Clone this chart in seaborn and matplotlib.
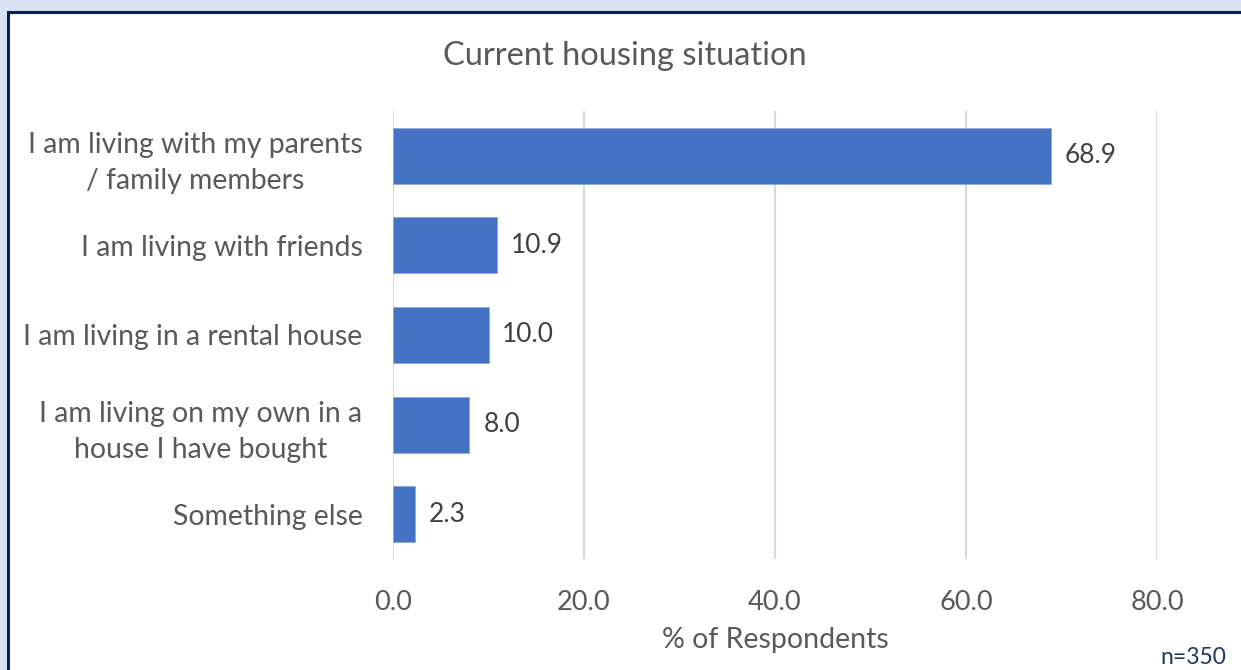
import matplotlib
matplotlib.use("Agg")
import matplotlib.pyplot as plt
import seaborn as sns
import pandas as pd
from matplotlib.patches import Rectangle

categories = [
    "I am living with my parents\n/ family members",
    "I am living with friends",
    "I am living in a rental house",
    "I am living on my own in a\nhouse I have bought",
    "Something else",
]
values = [68.9, 10.9, 10.0, 8.0, 2.3]
x_ticks = [0, 20, 40, 60, 80]
x_tick_labels = ["0.0", "20.0", "40.0", "60.0", "80.0"]
title = "Current housing situation"
x_label = "% of Respondents"
note = "n=350"

sns.set_theme(style="white")
plt.rcParams["font.family"] = ["Lato", "DejaVu Sans"]

W, H = 1241, 670
fig = plt.figure(figsize=(W / 100, H / 100), dpi=100)
fig.patch.set_facecolor("#DAE3F3")

# white chart area with navy border
fig.patches.append(Rectangle((8 / W, -0.1), 1.2, (H - 12) / H + 0.1,
                             transform=fig.transFigure, facecolor="white",
                             edgecolor="#002060", linewidth=2.2, zorder=-5))

ax = fig.add_axes([393 / W, (H - 559) / H, (1157 - 393) / W, 448 / H])
ax.set_facecolor("none")
ax.set_zorder(1)

df = pd.DataFrame({"cat": categories, "val": values})
sns.barplot(data=df, y="cat", x="val", orient="h", color="#4472C4",
            saturation=1, width=0.625, ax=ax, edgecolor="#8FAADC", linewidth=0.6)

ax.set_xlim(0, 80)
ax.set_ylim(4.5, -0.5)
ax.set_xticks(x_ticks)
ax.set_xticklabels(x_tick_labels)
ax.grid(axis="x", color="#D9D9D9", linewidth=1.5)
ax.set_axisbelow(True)
for s in ax.spines.values():
    s.set_visible(False)
ax.tick_params(axis="both", length=0, labelcolor="#595959")
ax.tick_params(axis="y", pad=22, labelsize=20.4)
ax.tick_params(axis="x", pad=22, labelsize=19.5)
for lab in ax.get_yticklabels():
    lab.set_multialignment("center")
    lab.set_linespacing(1.48)

ax.set_ylabel("")
ax.set_xlabel(x_label, fontsize=20.5, color="#595959", labelpad=9)

for i, v in enumerate(values):
    ax.annotate(f"{v:.1f}", xy=(v, i), xytext=(10, 0), textcoords="offset points",
                va="center", ha="left", fontsize=19, color="#404040")

fig.text(625 / W, (H - 56) / H, title, ha="center", va="center",
         fontsize=23.5, color="#595959")
fig.text(1193 / W, (H - 657) / H, note, ha="center", va="center",
         fontsize=16.5, color="#1F3864")

fig.savefig("out.png", dpi=100, facecolor=fig.get_facecolor())
